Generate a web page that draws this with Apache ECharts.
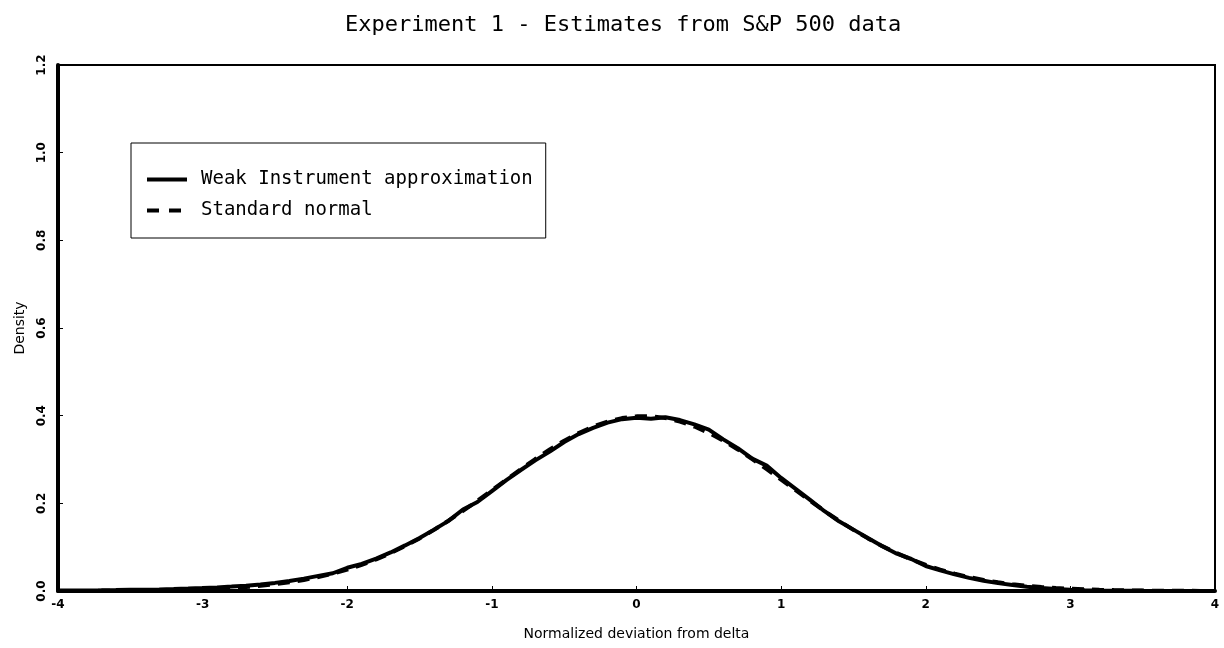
<!DOCTYPE html>
<html lang="en" style="height: 100%">
<head>
  <meta charset="utf-8">
</head>
<body style="height: 100%; margin: 0; background: #fff">
  <div id="container" style="width: 1224px; height: 648px"></div>

  <script type="text/javascript" src="https://cdn.jsdelivr.net/npm/echarts@6/dist/echarts.min.js"></script>

  <script type="text/javascript">
    // x grid for the weak instrument estimate (-4 .. 3.9 step 0.1)
    var weakX = [
      -4.0, -3.9, -3.8, -3.7, -3.6, -3.5, -3.4, -3.3, -3.2, -3.1,
      -3.0, -2.9, -2.8, -2.7, -2.6, -2.5, -2.4, -2.3, -2.2, -2.1,
      -2.0, -1.9, -1.8, -1.7, -1.6, -1.5, -1.4, -1.3, -1.2, -1.1,
      -1.0, -0.9, -0.8, -0.7, -0.6, -0.5, -0.4, -0.3, -0.2, -0.1,
      0.0, 0.1, 0.2, 0.3, 0.4, 0.5, 0.6, 0.7, 0.8, 0.9,
      1.0, 1.1, 1.2, 1.3, 1.4, 1.5, 1.6, 1.7, 1.8, 1.9,
      2.0, 2.1, 2.2, 2.3, 2.4, 2.5, 2.6, 2.7, 2.8, 2.9,
      3.0, 3.1, 3.2, 3.3, 3.4, 3.5, 3.6, 3.7, 3.8, 3.9
    ];
    var weakY = [
      0.0010, 0.0011, 0.0013, 0.0016, 0.0020, 0.0026, 0.0031, 0.0037, 0.0045, 0.0055,
      0.0067, 0.0082, 0.0100, 0.0122, 0.0150, 0.0185, 0.0228, 0.0282, 0.0345, 0.0405,
      0.0530, 0.0620, 0.0740, 0.0880, 0.1040, 0.1210, 0.1400, 0.1600, 0.1860, 0.2030,
      0.2280, 0.2530, 0.2760, 0.2980, 0.3180, 0.3400, 0.3580, 0.3720, 0.3840, 0.3920,
      0.3950, 0.3930, 0.3965, 0.3900, 0.3800, 0.3680, 0.3460, 0.3260, 0.3020, 0.2860,
      0.2580, 0.2330, 0.2080, 0.1820, 0.1590, 0.1400, 0.1210, 0.1020, 0.0850, 0.0730,
      0.0570, 0.0470, 0.0380, 0.0300, 0.0235, 0.0180, 0.0135, 0.0098, 0.0068, 0.0045,
      0.0030, 0.0019, 0.0012, 0.0008, 0.0005, 0.0003, 0.0002, 0.0001, 0.0001, 0.0000
    ];

    // x grid for the standard normal curve (-4 .. 4 step 0.1)
    var normX = [
      -4.0, -3.9, -3.8, -3.7, -3.6, -3.5, -3.4, -3.3, -3.2, -3.1,
      -3.0, -2.9, -2.8, -2.7, -2.6, -2.5, -2.4, -2.3, -2.2, -2.1,
      -2.0, -1.9, -1.8, -1.7, -1.6, -1.5, -1.4, -1.3, -1.2, -1.1,
      -1.0, -0.9, -0.8, -0.7, -0.6, -0.5, -0.4, -0.3, -0.2, -0.1,
      0.0, 0.1, 0.2, 0.3, 0.4, 0.5, 0.6, 0.7, 0.8, 0.9,
      1.0, 1.1, 1.2, 1.3, 1.4, 1.5, 1.6, 1.7, 1.8, 1.9,
      2.0, 2.1, 2.2, 2.3, 2.4, 2.5, 2.6, 2.7, 2.8, 2.9,
      3.0, 3.1, 3.2, 3.3, 3.4, 3.5, 3.6, 3.7, 3.8, 3.9,
      4.0
    ];
    var normY = [
      0.0001, 0.0002, 0.0002, 0.0004, 0.0005, 0.0007, 0.0010, 0.0015, 0.0020, 0.0028,
      0.0038, 0.0051, 0.0069, 0.0091, 0.0119, 0.0154, 0.0198, 0.0252, 0.0317, 0.0396,
      0.0488, 0.0596, 0.0721, 0.0863, 0.1023, 0.1200, 0.1394, 0.1604, 0.1826, 0.2059,
      0.2299, 0.2541, 0.2780, 0.3011, 0.3230, 0.3429, 0.3605, 0.3752, 0.3867, 0.3945,
      0.3984, 0.3984, 0.3945, 0.3867, 0.3752, 0.3605, 0.3429, 0.3230, 0.3011, 0.2780,
      0.2541, 0.2299, 0.2059, 0.1826, 0.1604, 0.1394, 0.1200, 0.1023, 0.0863, 0.0721,
      0.0596, 0.0488, 0.0396, 0.0317, 0.0252, 0.0198, 0.0154, 0.0119, 0.0091, 0.0069,
      0.0051, 0.0038, 0.0028, 0.0020, 0.0015, 0.0010, 0.0007, 0.0005, 0.0004, 0.0002,
      0.0002
    ];

    var seriesNames = ['Weak Instrument approximation', 'Standard normal'];

    function pairs(xs, ys) {
      return xs.map(function (x, i) { return [x, ys[i]]; });
    }

    var mono = 'DejaVu Sans Mono';
    var sans = 'DejaVu Sans';
    var myChart = echarts.init(document.getElementById('container'), null, { renderer: 'canvas' });

    var option = {
      backgroundColor: '#fff',
      animation: false,
      title: {
        text: 'Experiment 1 - Estimates from S&P 500 data',
        left: 340,
        top: 9,
        textStyle: { fontFamily: mono, fontSize: 22, fontWeight: 'normal', color: '#000' }
      },
      legend: {
        orient: 'vertical',
        left: 131,
        top: 143,
        padding: [27, 13, 18, 16],
        itemGap: 12,
        itemWidth: 40,
        itemHeight: 20,
        borderColor: '#000',
        borderWidth: 1,
        borderRadius: 0,
        textStyle: { fontFamily: mono, fontSize: 19, color: '#000', padding: [0, 0, 0, 9] },
        data: [
          { name: seriesNames[0], icon: 'path://M0,8 L40,8 L40,12 L0,12 Z' },
          { name: seriesNames[1], icon: 'path://M0,8 L12,8 L12,12 L0,12 Z M22,8 L34,8 L34,12 L22,12 Z M39.9,10 L40,10 L40,10.1 Z' }
        ]
      },
      grid: {
        left: 58, right: 9, top: 65, bottom: 57,
        show: true,
        borderColor: '#000',
        borderWidth: 2
      },
      xAxis: {
        type: 'value',
        min: -4, max: 4, interval: 1,
        name: 'Normalized deviation from delta',
        nameLocation: 'middle',
        nameGap: 36,
        nameTextStyle: { fontFamily: sans, fontSize: 14, color: '#000' },
        axisLine: { onZero: false, lineStyle: { color: '#000', width: 4 } },
        axisTick: { inside: true, length: 5, lineStyle: { color: '#000' } },
        axisLabel: { fontFamily: sans, fontSize: 12, fontWeight: 'bold', color: '#000', margin: 8 },
        splitLine: { show: false }
      },
      yAxis: {
        type: 'value',
        min: 0, max: 1.2, interval: 0.2,
        name: 'Density',
        nameLocation: 'middle',
        nameGap: 31,
        nameTextStyle: { fontFamily: sans, fontSize: 14, color: '#000' },
        axisLine: { show: true, onZero: false, lineStyle: { color: '#000', width: 4 } },
        axisTick: { show: true, inside: true, length: 5, lineStyle: { color: '#000' } },
        axisLabel: {
          rotate: 90, fontFamily: sans, fontSize: 12, fontWeight: 'bold', color: '#000', margin: 10,
          formatter: function (v) { return v.toFixed(1); }
        },
        splitLine: { show: false }
      },
      series: [
        {
          name: seriesNames[0],
          type: 'line',
          showSymbol: false,
          color: '#000',
          lineStyle: { color: '#000', width: 4 },
          data: pairs(weakX, weakY),
          z: 3
        },
        {
          name: seriesNames[1],
          type: 'line',
          showSymbol: false,
          color: '#000',
          lineStyle: { color: '#000', width: 4, type: [12, 8] },
          data: pairs(normX, normY),
          z: 2
        }
      ]
    };

    myChart.setOption(option);
  </script>
</body>
</html>
